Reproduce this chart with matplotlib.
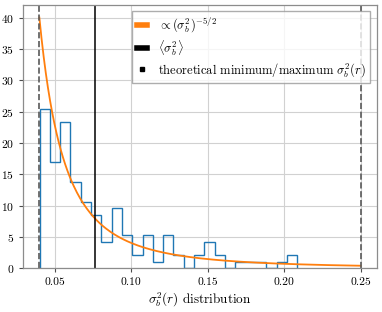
import numpy as np
import matplotlib
matplotlib.use("Agg")
import matplotlib.pyplot as plt
from matplotlib.lines import Line2D

# Data
counts = [24, 16, 22, 13, 10, 8, 4, 9, 5, 2, 5, 1, 5, 2, 0, 2, 4, 2, 0, 1, 1, 1, 0, 1, 2]
bin_lo = 0.0401
bin_hi = 0.2085
theo_min = 0.04
theo_max = 0.25
mean_val = 0.0765
pl_const = 0.0128  # prefactor of the (sigma_b^2)^(-5/2) curve

plt.rcParams['font.family'] = ['cmr10', 'DejaVu Serif']
plt.rcParams['mathtext.fontset'] = 'cm'
plt.rcParams['axes.formatter.use_mathtext'] = True

fig = plt.figure(figsize=(3.82, 3.12), dpi=100)
ax = fig.add_axes([23.3 / 382, 1 - 268.3 / 312, (376.7 - 23.3) / 382, (268.3 - 5) / 312])

edges = np.linspace(bin_lo, bin_hi, len(counts) + 1)
centers = 0.5 * (edges[:-1] + edges[1:])
ax.hist(centers, bins=edges, weights=counts, density=True, histtype='step',
        color='#1f77b4', lw=1.0)

xs = np.linspace(theo_min, theo_max, 300)
ax.plot(xs, pl_const * xs ** -2.5, color='#ff7f0e', lw=1.3)
ax.axvline(mean_val, color='k', lw=1.1)
for v in (theo_min, theo_max):
    ax.axvline(v, color='0.35', lw=1.2, ls='--')

ax.set_xticks([0.05, 0.10, 0.15, 0.20, 0.25])
ax.set_xticklabels(['0.05', '0.10', '0.15', '0.20', '0.25'])
ax.set_yticks(range(0, 41, 5))
ax.tick_params(labelsize=8.3, length=3, width=0.8, color='0.3')
ax.grid(True, color='0.82', lw=0.8)
ax.set_axisbelow(True)
for s in ax.spines.values():
    s.set_color('0.55')
    s.set_linewidth(0.9)
ax.set_xlabel(r'$\sigma_b^2(r)$ distribution', fontsize=9.5, labelpad=3)

handles = [
    Line2D([], [], color='#ff7f0e', lw=4),
    Line2D([], [], color='k', lw=4),
    Line2D([], [], color='k', ls='none', marker='s', ms=3),
]
labels = [r'$\propto(\sigma_b^2)^{-5/2}$', r'$\langle\sigma_b^2\rangle$',
          r'theoretical minimum/maximum $\sigma_b^2(r)$']
ax.legend(handles, labels, loc='upper right', fontsize=9, handlelength=0.8,
          handletextpad=0.9, labelspacing=0.25, borderpad=0.35, edgecolor='0.6',
          fancybox=False, borderaxespad=0.5)

fig.savefig('out.png', dpi=100)
